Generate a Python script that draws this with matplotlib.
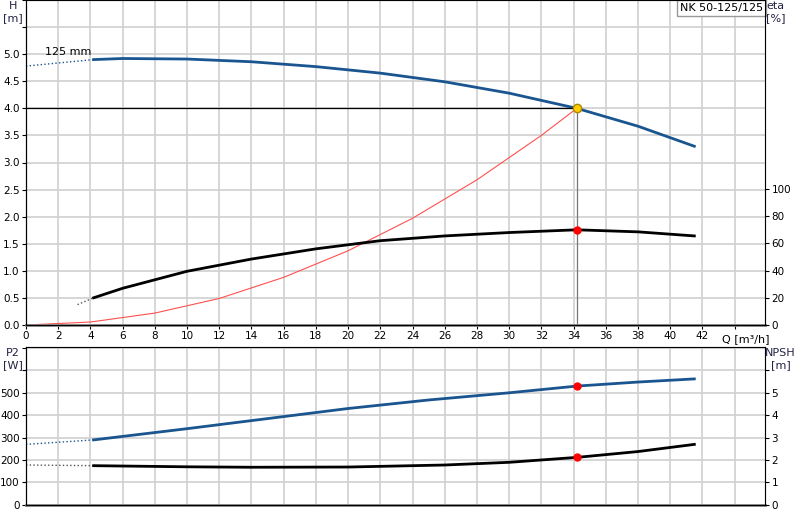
import numpy as np
import matplotlib.pyplot as plt

# ---- data ----
q_h = [4.2, 6, 10, 14, 18, 22, 26, 30, 34.2, 38, 41.5]
h_vals = [4.90, 4.92, 4.91, 4.86, 4.77, 4.65, 4.49, 4.28, 4.00, 3.67, 3.30]
q_h_ext = [0, 4.2]
h_ext = [4.78, 4.90]

q_eta = [4.2, 6, 10, 14, 18, 22, 26, 30, 34.2, 38, 41.5]
eta_vals = [20, 27, 39.5, 48.5, 56, 62, 65.5, 68, 70, 68.5, 65.5]
q_eta_ext = [3.2, 4.2]
eta_ext = [15, 20]

q_sys = [0, 4, 8, 12, 16, 20, 24, 28, 32, 34.2]
h_sys = [0, 0.055, 0.22, 0.49, 0.88, 1.37, 1.97, 2.68, 3.50, 4.0]

q_p = [4.2, 10, 15, 20, 25, 30, 34.2, 38, 41.5]
p2_vals = [290, 340, 385, 430, 468, 500, 530, 548, 562]
q_p_ext = [0, 4.2]
p2_ext = [270, 290]

q_n = [4.2, 10, 14, 20, 26, 30, 34.2, 38, 41.5]
npsh_vals = [1.75, 1.70, 1.68, 1.69, 1.78, 1.90, 2.12, 2.38, 2.70]
q_n_ext = [0, 4.2]
npsh_ext = [1.78, 1.75]

q_duty = 34.2
h_duty = 4.0
eta_duty = 70
p2_duty = 530
npsh_duty = 2.12

BLUE = "#1a5590"
GRID = "#d0d0d0"

fig = plt.figure(figsize=(8, 5.2), dpi=100)
ax = fig.add_axes([0.0325, 0.375, 0.924, 0.625])
ax2 = ax.twinx()
bx = fig.add_axes([0.0325, 0.029, 0.924, 0.304])
bx2 = bx.twinx()

for a in (ax, bx, ax2, bx2):
    a.tick_params(labelsize=7.5, length=3, pad=1.5)

for a in (ax, bx):
    a.set_xlim(0, 45.9)
    a.set_xticks(np.arange(0, 46, 2))
    a.grid(True, color=GRID, lw=1.2)
    a.set_axisbelow(True)
    for s in ("top", "right"):
        a.spines[s].set_color("#999999")
    a.spines["bottom"].set_color("#888888")
    a.spines["bottom"].set_linewidth(2)

# ---- top panel ----
ax.set_ylim(0, 6)
ax.set_yticks(np.arange(0, 6.01, 0.5))
ax.set_yticklabels([f"{v:.1f}" if v <= 5.0 else "" for v in np.arange(0, 6.01, 0.5)])
ax.set_xticklabels([str(v) if v <= 42 else "" for v in range(0, 46, 2)])
ax2.set_ylim(0, 239)
ax2.set_yticks([0, 20, 40, 60, 80, 100])
ax2.spines["right"].set_color("black")

ax.plot(q_h_ext, h_ext, ls=":", color=BLUE, lw=1)
ax.plot(q_h, h_vals, color=BLUE, lw=2)
ax.plot(q_sys, h_sys, color="#ff5050", lw=0.8)
ax.plot([0, q_duty], [h_duty, h_duty], color="black", lw=0.9)
ax.plot([q_duty, q_duty], [0, h_duty], color="#777777", lw=0.9)
ax.plot(q_duty, h_duty, "o", color="#ffcc00", mec="#aa8800", ms=6, zorder=5)
ax2.plot(q_eta_ext, eta_ext, ls=":", color="#555555", lw=1)
ax2.plot(q_eta, eta_vals, color="black", lw=2)
ax2.plot(q_duty, eta_duty, "o", color="red", ms=5, zorder=5)

ax.text(1.2, 4.98, "125 mm", fontsize=8)
fig.text(0.016, 0.998, "H\n[m]", fontsize=8, ha="center", va="top", color="#222244")
fig.text(0.958, 0.998, "eta\n[%]", fontsize=8, ha="left", va="top", color="#222244")
ax.text(43.2, -0.16, "Q [m³/h]", fontsize=8, va="top")
ax.text(40.6, 5.85, "NK 50-125/125", fontsize=8, va="center",
        bbox=dict(boxstyle="square,pad=0.3", fc="white", ec="#999999"))

# ---- bottom panel ----
bx.set_ylim(0, 705)
bx.set_yticks(np.arange(0, 701, 100))
bx.set_yticklabels([str(v) if v <= 500 else "" for v in range(0, 701, 100)])
bx.set_xticklabels([])
bx.tick_params(axis="x", length=0)
bx2.set_ylim(0, 7.05)
bx2.set_yticks(range(0, 7))
bx2.set_yticklabels([str(v) if v <= 5 else "" for v in range(0, 7)])
bx2.spines["right"].set_color("black")

bx.plot(q_p_ext, p2_ext, ls=":", color=BLUE, lw=1)
bx.plot(q_p, p2_vals, color=BLUE, lw=2)
bx.plot(q_duty, p2_duty, "o", color="red", ms=5, zorder=5)
bx2.plot(q_n_ext, npsh_ext, ls=":", color="#555555", lw=1)
bx2.plot(q_n, npsh_vals, color="black", lw=2)
bx2.plot(q_duty, npsh_duty, "o", color="red", ms=5, zorder=5)

fig.text(0.016, 0.33, "P2\n[W]", fontsize=8, ha="center", va="top", color="#222244")
fig.text(0.995, 0.33, "NPSH\n[m]", fontsize=8, ha="right", va="top",
         color="#222244", multialignment="center")

fig.savefig("out.png", dpi=100)
